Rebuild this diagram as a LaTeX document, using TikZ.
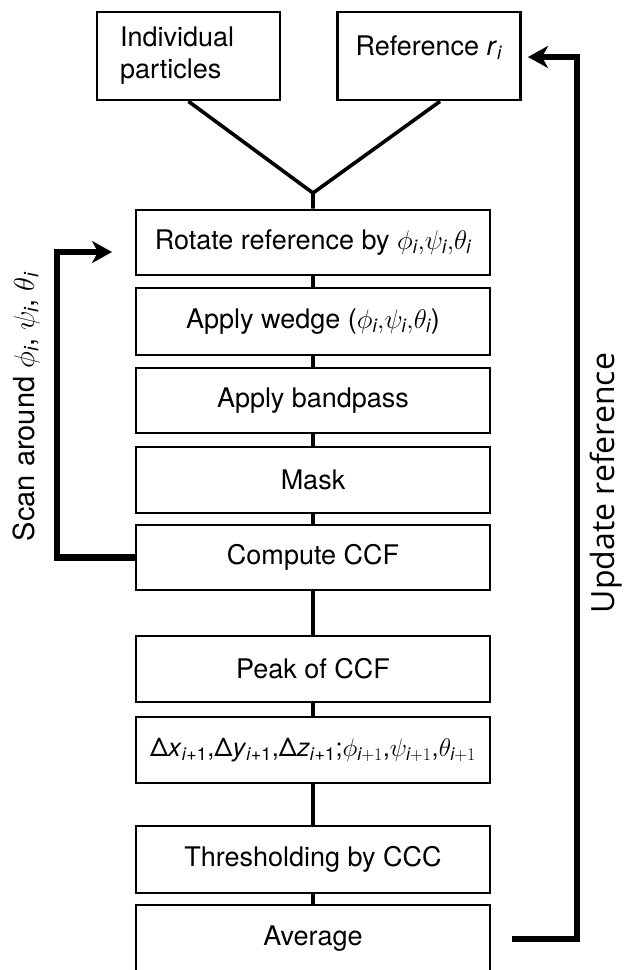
\RequirePackage{fix-cm}
\documentclass[tikz,border=0pt]{standalone}
\usepackage{amsmath}
\usepackage[no-math]{fontspec}
\setmainfont{TeX Gyre Heros}
\newfontfamily\osans{Open Sans}
\usetikzlibrary{arrows.meta}
\newcommand\ii{\textit{i}}
\newcommand\ip{\textit{i}+1}
\begin{document}
\begin{tikzpicture}[x=1pt,y=-1pt,
  stepbox/.style={draw, line width=2.8pt, minimum width=354pt, inner sep=0pt,
    font=\fontsize{27}{32}\selectfont},
  topbox/.style={draw, line width=2.8pt, minimum width=183pt, minimum height=88pt,
    inner sep=0pt, font=\fontsize{27}{32}\selectfont},
  link/.style={line width=3.6pt},
  loopline/.style={line width=6.5pt, line join=miter},
  arr/.style={-{Stealth[length=20pt,width=22pt,inset=6pt]}},
  vtext/.style={rotate=90, inner sep=0pt}
]
\useasboundingbox (0,0) rectangle (625,970);

\node[topbox, align=left, text width=137pt, inner xsep=23pt] (ind) at (188.5,56) {Individual\\particles};
\node[topbox] (ref) at (429,56) {\raisebox{8pt}[\height][\depth]{Reference \textit{r}\textsubscript{\ii}}};

\node[stepbox, minimum height=65pt] (rot) at (313,242.5)
  {Rotate reference by $\phi_{\ii}{,}\psi_{\ii}{,}\theta_{\ii}$};
\node[stepbox, minimum height=67pt] (wedge) at (313,321.5)
  {Apply wedge ($\phi_{\ii}{,}\psi_{\ii}{,}\theta_{\ii}$)};
\node[stepbox, minimum height=65pt] (band) at (313,400.5) {Apply bandpass};
\node[stepbox, minimum height=66pt] (mask) at (313,480) {Mask};
\node[stepbox, minimum height=65pt] (ccf) at (313,557.5) {Compute CCF};
\node[stepbox, minimum height=66pt] (peak) at (313,669) {Peak of CCF};
\node[stepbox, minimum height=66pt, font=\fontsize{25.5}{30}\selectfont] (delta) at (313,750)
  {Δ\textit{x}\textsubscript{\ip},Δ\textit{y}\textsubscript{\ip},Δ\textit{z}\textsubscript{\ip};$\phi_{\ip}$,$\psi_{\ip}$,$\theta_{\ip}$};
\node[stepbox, minimum height=67pt] (thr) at (313,859.5) {Thresholding by CCC};
\node[stepbox, minimum height=68pt] (avg) at (313,939) {Average};

\coordinate (meet) at (313,193);
\draw[link] (ind.south) -- (meet) -- (rot.north);
\draw[link] ([xshift=11pt]ref.south) -- (meet);
\draw[link] (rot) -- (wedge);
\draw[link] (wedge) -- (band);
\draw[link] (band) -- (mask);
\draw[link] (mask) -- (ccf);
\draw[link] (ccf) -- (peak);
\draw[link] (peak) -- (delta);
\draw[link] (delta) -- (thr);
\draw[link] (thr) -- (avg);

\coordinate (scantip) at (112,252);
\draw[loopline, arr] (ccf.west) -| (57,252) -- (scantip);
\coordinate (avgout) at (512,939);
\coordinate (reftip) at (528,57);
\draw[loopline, arr] (avgout) -| (577,57) -- (reftip);

\node[vtext, font=\fontsize{29}{33}\selectfont] (scan) at (26,407)
  {Scan around $\phi_{\ii}$, $\psi_{\ii}$, $\theta_{\ii}$};
\node[vtext, font=\osans\fontsize{32}{36}\selectfont] (upd) at (606,483) {Update reference};
\end{tikzpicture}
\end{document}
